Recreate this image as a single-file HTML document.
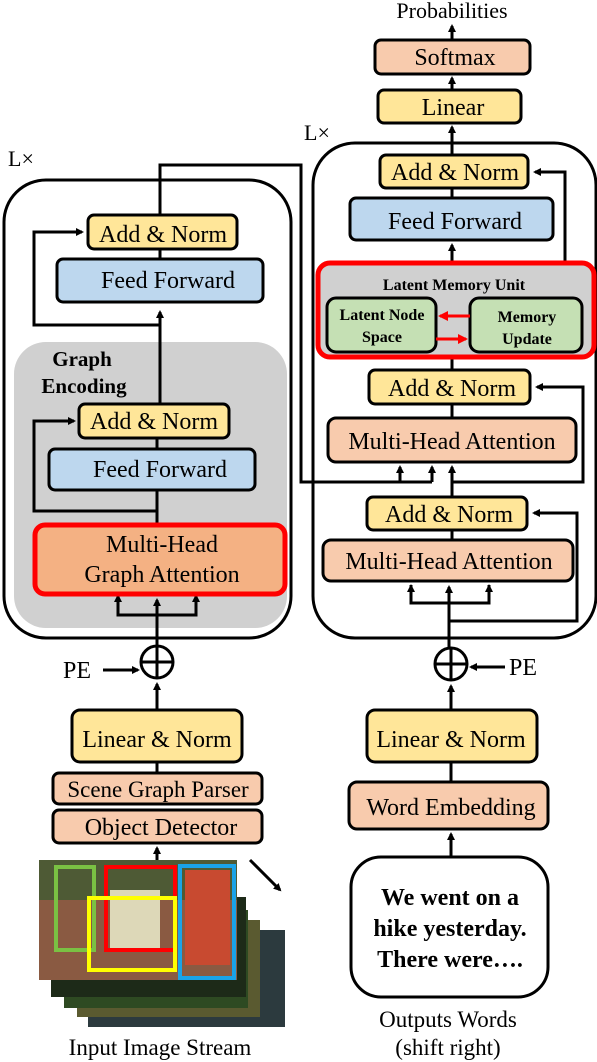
<!DOCTYPE html>
<html><head><meta charset="utf-8"><style>
body{margin:0;background:#fff}
svg{display:block}
svg text{font-family:"Liberation Serif","Times New Roman","DejaVu Serif",serif;fill:#000}
</style></head><body>
<svg width="597" height="1062" viewBox="0 0 597 1062" xmlns="http://www.w3.org/2000/svg" font-family="Liberation Serif, Times New Roman, DejaVu Serif, serif">
<defs>
<marker id="a" markerWidth="8" markerHeight="8" refX="6" refY="4" orient="auto" markerUnits="userSpaceOnUse"><path d="M0,0 L8,4 L0,8 z" fill="#000"/></marker>
<marker id="r" markerWidth="10" markerHeight="10" refX="8" refY="5" orient="auto" markerUnits="userSpaceOnUse"><path d="M0,0 L10,5 L0,10 z" fill="#f00"/></marker>
</defs>
<g stroke="#000" stroke-width="3" fill="none">
<rect x="4" y="180" width="287" height="458" rx="42"/>
<rect x="313" y="143" width="283" height="495" rx="42"/>
</g>
<rect x="14" y="342" width="273" height="286" rx="32" fill="#d0d0d0"/>
<text x="8" y="166" font-size="22">L×</text>
<text x="304" y="140" font-size="22">L×</text>
<text x="82" y="366" font-size="21" font-weight="bold" text-anchor="middle">Graph</text>
<text x="84" y="393" font-size="21" font-weight="bold" text-anchor="middle">Encoding</text>

<g stroke="#000" stroke-width="3" fill="none">
<polyline points="160,215 160,165 301,165 301,482 432,482"/>
<polyline points="160,404 160,312" marker-end="url(#a)"/>
<polyline points="160,249 160,259"/>
<polyline points="160,325 34,325 34,232 82,232" marker-end="url(#a)"/>
<polyline points="157,438 157,449"/>
<polyline points="157,525 157,490"/>
<polyline points="157,511 34,511 34,421 74,421" marker-end="url(#a)"/>
<polyline points="118,598 118,615 196,615 196,598"/>
<line x1="157" y1="645" x2="157" y2="600" marker-end="url(#a)"/>
<line x1="118" y1="600" x2="118" y2="596" marker-end="url(#a)"/>
<line x1="196" y1="600" x2="196" y2="596" marker-end="url(#a)"/>
<line x1="452" y1="40" x2="452" y2="26" marker-end="url(#a)"/>
<line x1="452" y1="90" x2="452" y2="78" marker-end="url(#a)"/>
<line x1="452" y1="155" x2="452" y2="127" marker-end="url(#a)"/>
<line x1="452" y1="188" x2="452" y2="198"/>
<line x1="452" y1="263" x2="452" y2="245" marker-end="url(#a)"/>
<polyline points="452,274 565,274 565,172 535,172" marker-end="url(#a)"/>
<line x1="452" y1="357" x2="452" y2="370"/>
<line x1="452" y1="404" x2="452" y2="418"/>
<line x1="452" y1="497" x2="452" y2="467" marker-end="url(#a)"/>
<line x1="400" y1="482" x2="400" y2="467" marker-end="url(#a)"/>
<line x1="432" y1="482" x2="432" y2="467" marker-end="url(#a)"/>
<polyline points="452,482 583,482 583,387 537,387" marker-end="url(#a)"/>
<line x1="452" y1="530" x2="452" y2="540"/>
<polyline points="411,585 411,603 489,603 489,585"/>
<line x1="449" y1="647" x2="449" y2="587" marker-end="url(#a)"/>
<line x1="411" y1="590" x2="411" y2="586" marker-end="url(#a)"/>
<line x1="489" y1="590" x2="489" y2="586" marker-end="url(#a)"/>
<polyline points="449,621 577,621 577,513 534,513" marker-end="url(#a)"/>
<circle cx="157" cy="662" r="16"/>
<line x1="141" y1="662" x2="173" y2="662"/><line x1="157" y1="646" x2="157" y2="678"/>
<circle cx="451" cy="664" r="16"/>
<line x1="435" y1="664" x2="467" y2="664"/><line x1="451" y1="648" x2="451" y2="680"/>
<line x1="103" y1="670" x2="138" y2="670" marker-end="url(#a)"/>
<line x1="505" y1="667" x2="471" y2="667" marker-end="url(#a)"/>
<line x1="157" y1="710" x2="157" y2="684" marker-end="url(#a)"/>
<line x1="451" y1="710" x2="451" y2="686" marker-end="url(#a)"/>
<line x1="157" y1="762" x2="157" y2="773"/>
<line x1="451" y1="762" x2="451" y2="782"/>
<line x1="157" y1="862" x2="157" y2="848" marker-end="url(#a)"/>
<line x1="451" y1="857" x2="451" y2="834" marker-end="url(#a)"/>
<line x1="250" y1="860" x2="280" y2="890" marker-end="url(#a)"/>
</g>

<g stroke="#000" stroke-width="3">
<rect x="88" y="215" width="149" height="34" rx="6" fill="#ffe699"/>
<rect x="57" y="259" width="206" height="43" rx="6" fill="#bdd7ee"/>
<rect x="79" y="404" width="150" height="34" rx="6" fill="#ffe699"/>
<rect x="49" y="449" width="206" height="41" rx="6" fill="#bdd7ee"/>
<rect x="35" y="525" width="250" height="69" rx="10" fill="#f4b183" stroke="#f00" stroke-width="5"/>
<rect x="375" y="40" width="155" height="34" rx="6" fill="#f8cbad"/>
<rect x="378" y="90" width="143" height="33" rx="6" fill="#ffe699"/>
<rect x="380" y="155" width="148" height="33" rx="6" fill="#ffe699"/>
<rect x="350" y="198" width="203" height="42" rx="6" fill="#bdd7ee"/>
<rect x="318" y="263" width="276" height="94" rx="12" fill="#d0d0d0" stroke="#f00" stroke-width="5"/>
<rect x="327" y="298" width="109" height="54" rx="9" fill="#c5e0b4"/>
<rect x="470" y="298" width="112" height="54" rx="9" fill="#c5e0b4"/>
<rect x="369" y="370" width="161" height="34" rx="6" fill="#ffe699"/>
<rect x="328" y="418" width="248" height="44" rx="8" fill="#f8cbad"/>
<rect x="367" y="497" width="160" height="33" rx="6" fill="#ffe699"/>
<rect x="323" y="540" width="250" height="41" rx="8" fill="#f8cbad"/>
<rect x="72" y="710" width="170" height="52" rx="8" fill="#ffe699"/>
<rect x="53" y="773" width="209" height="31" rx="6" fill="#f8cbad"/>
<rect x="53" y="810" width="209" height="33" rx="6" fill="#f8cbad"/>
<rect x="367" y="710" width="170" height="52" rx="8" fill="#ffe699"/>
<rect x="349" y="782" width="199" height="47" rx="8" fill="#f8cbad"/>
<rect x="351" y="857" width="197" height="140" rx="30" fill="#fff"/>
</g>
<g stroke="#f00" stroke-width="3">
<line x1="470" y1="316" x2="440" y2="316" marker-end="url(#r)"/>
<line x1="436" y1="339" x2="466" y2="339" marker-end="url(#r)"/>
</g>

<rect x="88" y="930" width="197" height="97" fill="#2c3a3e"/>
<rect x="77" y="920" width="183" height="97" fill="#5a5a30"/>
<rect x="64" y="910" width="184" height="98" fill="#2e4a22"/>
<rect x="51" y="897" width="195" height="100" fill="#1d2a18"/>
<rect x="39" y="860" width="198" height="120" fill="#8a5a42"/>
<rect x="39" y="860" width="198" height="40" fill="#4e5a35"/>
<rect x="185" y="870" width="45" height="95" fill="#c84a30"/>
<rect x="110" y="890" width="50" height="60" fill="#ddd8b8"/>
<g fill="none" stroke-width="4">
<rect x="56" y="867" width="38" height="83" stroke="#7ac143"/>
<rect x="106" y="867" width="69" height="83" stroke="#f00"/>
<rect x="89" y="898" width="86" height="72" stroke="#ff0"/>
<rect x="180" y="866" width="54" height="112" stroke="#1aa3e8"/>
</g>

<g font-size="24" text-anchor="middle">
<text x="452" y="18" font-size="22">Probabilities</text>
<text x="455" y="65">Softmax</text>
<text x="453" y="115">Linear</text>
<text x="455" y="180">Add &amp; Norm</text>
<text x="455" y="229">Feed Forward</text>
<text x="454" y="290" font-size="16" font-weight="bold">Latent Memory Unit</text>
<text x="382" y="320" font-size="16" font-weight="bold">Latent Node</text>
<text x="382" y="342" font-size="16" font-weight="bold">Space</text>
<text x="527" y="322" font-size="16" font-weight="bold">Memory</text>
<text x="527" y="344" font-size="16" font-weight="bold">Update</text>
<text x="452" y="396">Add &amp; Norm</text>
<text x="452" y="449">Multi-Head Attention</text>
<text x="449" y="522">Add &amp; Norm</text>
<text x="449" y="569">Multi-Head Attention</text>
<text x="163" y="242">Add &amp; Norm</text>
<text x="168" y="288">Feed Forward</text>
<text x="154" y="429">Add &amp; Norm</text>
<text x="160" y="477">Feed Forward</text>
<text x="162" y="552">Multi-Head</text>
<text x="162" y="582">Graph Attention</text>
<text x="77" y="678">PE</text>
<text x="523" y="675">PE</text>
<text x="157" y="747">Linear &amp; Norm</text>
<text x="451" y="747">Linear &amp; Norm</text>
<text x="158" y="797" font-size="23">Scene Graph Parser</text>
<text x="161" y="835">Object Detector</text>
<text x="451" y="815">Word Embedding</text>
<text x="450" y="905" font-weight="bold">We went on a</text>
<text x="450" y="936" font-weight="bold">hike yesterday.</text>
<text x="450" y="967" font-weight="bold">There were….</text>
<text x="160" y="1055" font-size="23">Input Image Stream</text>
<text x="448" y="1027" font-size="23">Outputs Words</text>
<text x="448" y="1055" font-size="23">(shift right)</text>
</g>
</svg>
</body></html>
